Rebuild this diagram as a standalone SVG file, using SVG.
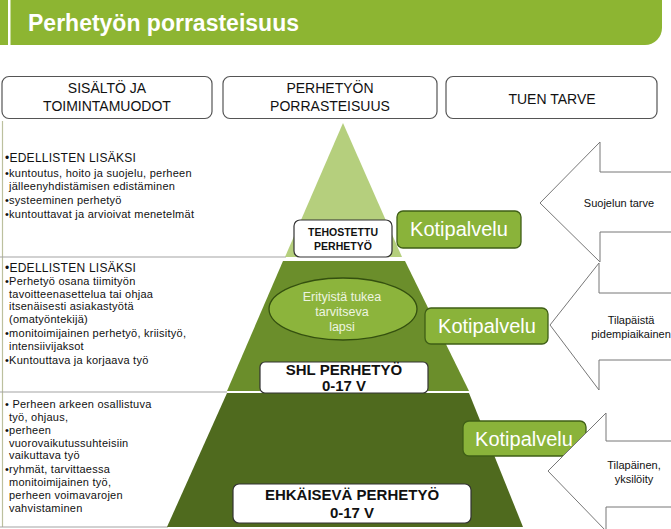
<svg xmlns="http://www.w3.org/2000/svg" width="671" height="529" viewBox="0 0 671 529">
<defs>
<style>
text{font-family:"Liberation Sans",Arial,sans-serif;fill:#111}
.hdr{fill:none;stroke:#555;stroke-width:1.2}
.hd{font-size:14px;text-anchor:middle}
.col{font-size:11px;letter-spacing:0.25px}
.kp{fill:#8ab33a;stroke:#3f5f16;stroke-width:1.3}
.kpt{font-size:20px;fill:#fff;text-anchor:middle}
.lbl{fill:#fff;stroke:#333;stroke-width:1.2}
.lblt{font-weight:bold;text-anchor:middle}
.arr{fill:#fff;stroke:#777;stroke-width:1}
.at{font-size:11px;text-anchor:middle}
.sep{stroke:#a3a3a3;stroke-width:1;fill:none}
</style>
</defs>
<rect width="671" height="529" fill="#fff"/>
<g id="header">
<path d="M0 0 H662 V28 A17 17 0 0 1 645 45 H0 Z" fill="#8db532"/>
<rect x="8" y="0" width="2.5" height="45" fill="#fff"/>
<text x="28" y="31" font-size="23" font-weight="bold" style="fill:#fff">Perhetyön porrasteisuus</text>
</g>
<g id="col-headers">
<g id="h1"><rect class="hdr" x="2" y="76.5" width="210" height="42" rx="7"/>
<text class="hd" x="107" y="93">SISÄLTÖ JA</text><text class="hd" x="107" y="111">TOIMINTAMUODOT</text></g>
<g id="h2"><rect class="hdr" x="223" y="76.5" width="214" height="42" rx="7"/>
<text class="hd" x="330" y="93">PERHETYÖN</text><text class="hd" x="330" y="111">PORRASTEISUUS</text></g>
<g id="h3"><rect class="hdr" x="446" y="76.5" width="211" height="42" rx="7"/>
<text class="hd" x="552" y="104">TUEN TARVE</text></g>
</g>
<g id="table-lines">
<line x1="2.5" y1="121" x2="2.5" y2="527" stroke="#bcc09e" stroke-width="1.2"/>
<line class="sep" x1="0" y1="257" x2="286" y2="257"/>
<line class="sep" x1="0" y1="392" x2="227" y2="392" stroke="#8e8e8e"/>
<line class="sep" x1="0" y1="527" x2="168" y2="527"/>
</g>
<g id="row1-text" class="col">
<text x="5" y="162" font-size="12">•EDELLISTEN  LISÄKSI</text>
<text x="5" y="177">•kuntoutus, hoito ja suojelu, perheen</text>
<text x="9" y="189.5">jälleenyhdistämisen edistäminen</text>
<text x="5" y="204">•systeeminen perhetyö</text>
<text x="5" y="218">•kuntouttavat ja arvioivat  menetelmät</text>
</g>
<g id="row2-text" class="col">
<text x="5" y="272" font-size="12">•EDELLISTEN  LISÄKSI</text>
<text x="5" y="285">•Perhetyö osana tiimityön</text>
<text x="9" y="297.5">tavoitteenasettelua  tai ohjaa</text>
<text x="9" y="310">itsenäisesti asiakastyötä</text>
<text x="9" y="322.5">(omatyöntekijä)</text>
<text x="5" y="337">•monitoimijainen perhetyö, kriisityö,</text>
<text x="9" y="349.5">intensiivijaksot</text>
<text x="5" y="364">•Kuntouttava  ja korjaava  työ</text>
</g>
<g id="row3-text" class="col">
<text x="5" y="408">• Perheen arkeen osallistuva</text>
<text x="9" y="420.5">työ, ohjaus,</text>
<text x="5" y="434">•perheen</text>
<text x="9" y="446.5">vuorovaikutussuhteisiin</text>
<text x="9" y="459">vaikuttava  työ</text>
<text x="5" y="473">•ryhmät, tarvittaessa</text>
<text x="9" y="486">monitoimijainen työ,</text>
<text x="9" y="499">perheen voimavarojen</text>
<text x="9" y="511.5">vahvistaminen</text>
</g>
<g id="pyramid">
<polygon id="tier1" points="343,123 402,257 285,257" fill="#b5cf7d"/>
<polygon id="tier2" points="283,261 405,261 469,391 227,391" fill="#6b8e2b"/>
<polygon id="tier3" points="227,393 469,393 523,527 167,527" fill="#4f6a1e"/>
</g>
<g id="tehostettu">
<rect class="lbl" x="294" y="220" width="98" height="37" rx="6"/>
<text class="lblt" x="343" y="236" font-size="10.5">TEHOSTETTU</text>
<text class="lblt" x="343" y="250" font-size="10.5">PERHETYÖ</text>
</g>
<g id="erityista">
<ellipse cx="343" cy="309" rx="74" ry="31" fill="#8cb43c" stroke="#34500f" stroke-width="1.3"/>
<text x="342" y="301" font-size="12.5" text-anchor="middle" style="fill:#eef4e0">Erityistä tukea</text>
<text x="342" y="316" font-size="12.5" text-anchor="middle" style="fill:#eef4e0">tarvitseva</text>
<text x="342" y="331" font-size="12.5" text-anchor="middle" style="fill:#eef4e0">lapsi</text>
</g>
<g id="shl">
<rect class="lbl" x="260" y="362" width="168" height="31" rx="5"/>
<text class="lblt" x="344" y="375" font-size="15">SHL PERHETYÖ</text>
<text class="lblt" x="344" y="391" font-size="15">0-17 V</text>
</g>
<g id="ehkaiseva">
<rect class="lbl" x="233" y="484" width="238" height="39" rx="6"/>
<text class="lblt" x="352" y="500" font-size="15">EHKÄISEVÄ PERHETYÖ</text>
<text class="lblt" x="352" y="518" font-size="15">0-17 V</text>
</g>
<g id="kotipalvelu1"><rect class="kp" x="397" y="211" width="124" height="37" rx="6"/><text class="kpt" x="459" y="236">Kotipalvelu</text></g>
<g id="kotipalvelu2"><rect class="kp" x="425" y="308" width="123" height="36" rx="6"/><text class="kpt" x="487" y="333">Kotipalvelu</text></g>
<g id="kotipalvelu3"><rect class="kp" x="463" y="421" width="123" height="35" rx="6"/><text class="kpt" x="524" y="446">Kotipalvelu</text></g>
<g id="arrow1">
<path class="arr" d="M672 172 H600 V142 L540 203 L600 262 V232 H672"/>
<text class="at" x="619" y="207">Suojelun tarve</text>
</g>
<g id="arrow2">
<path class="arr" d="M672 293 H599 V263 L550 325 L599 390 V360 H672"/>
<text class="at" x="631" y="324" font-size="10.3">Tilapäistä</text>
<text class="at" x="631" y="338" font-size="10.3">pidempiaikainen</text>
</g>
<g id="arrow3">
<path class="arr" d="M672 441 H606 V413 L548 471 L606 531 V507 H672"/>
<text class="at" x="634" y="469">Tilapäinen,</text>
<text class="at" x="634" y="483">yksilöity</text>
</g>
</svg>
